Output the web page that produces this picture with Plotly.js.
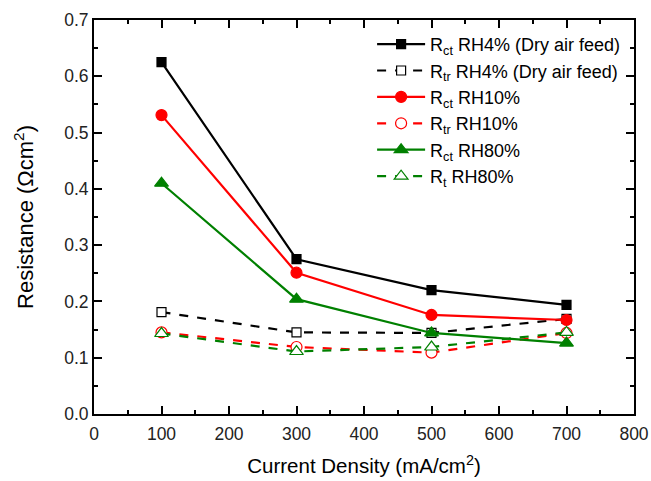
<!DOCTYPE html>
<html>
<head>
<meta charset="utf-8">
<script src="https://cdn.plot.ly/plotly-3.0.1.min.js"></script>
<style>html,body{margin:0;padding:0;background:#fff;}#chart{width:651px;height:481px;}</style>
</head>
<body>
<div id="chart"></div>
<script>
const currentDensity = [100, 300, 500, 700];
const rctRH4 = [0.625, 0.275, 0.220, 0.194];
const rtrRH4 = [0.181, 0.145, 0.144, 0.169];
const rctRH10 = [0.531, 0.251, 0.176, 0.167];
const rtrRH10 = [0.145, 0.119, 0.109, 0.144];
const rctRH80 = [0.410, 0.204, 0.144, 0.126];
const rtRH80 = [0.143, 0.111, 0.119, 0.145];
const seriesNames = [
  'R<sub>ct</sub> RH4% (Dry air feed)',
  'R<sub>tr</sub> RH4% (Dry air feed)',
  'R<sub>ct</sub> RH10%',
  'R<sub>tr</sub> RH10%',
  'R<sub>ct</sub> RH80%',
  'R<sub>t</sub> RH80%'
];

function tr(y, name, color, dash, symbol, size, fill) {
  return {
    x: currentDensity, y: y, name: name, type: 'scatter', mode: 'lines+markers',
    line: {color: color, width: 2.2, dash: dash},
    marker: {symbol: symbol, size: size, color: fill, line: {color: color, width: 1.2}}
  };
}
const data = [
  tr(rctRH4, seriesNames[0], '#000000', 'solid', 'square', 9, '#000000'),
  tr(rtrRH4, seriesNames[1], '#000000', 'dash', 'square', 9, '#ffffff'),
  tr(rctRH10, seriesNames[2], '#ff0000', 'solid', 'circle', 11, '#ff0000'),
  tr(rtrRH10, seriesNames[3], '#ff0000', 'dash', 'circle', 11, '#ffffff'),
  tr(rctRH80, seriesNames[4], '#008000', 'solid', 'triangle-up', 12, '#008000'),
  tr(rtRH80, seriesNames[5], '#008000', 'dash', 'triangle-up', 12, '#ffffff')
];
const FF = 'Liberation Sans, Arial, sans-serif';
const axCommon = {
  showline: true, linecolor: '#000', linewidth: 2, mirror: 'ticks',
  ticks: 'inside', ticklen: 8, tickwidth: 2, tickcolor: '#000',
  showgrid: false, zeroline: false,
  tickfont: {family: FF, size: 17.5, color: '#222'}
};
const layout = {
  width: 651, height: 481,
  margin: {l: 94, r: 17, t: 20, b: 67},
  paper_bgcolor: '#fff', plot_bgcolor: '#fff',
  font: {family: FF, size: 16, color: '#000'},
  showlegend: true,
  legend: {x: 0.515, y: 0.985, xanchor: 'left', yanchor: 'top', bgcolor: 'rgba(0,0,0,0)',
    itemwidth: 48,
    font: {family: FF, size: 18, color: '#000'}, tracegroupgap: 0},
  xaxis: Object.assign({}, axCommon, {
    range: [0, 800], dtick: 100, ticklabelstandoff: 3,
    minor: {dtick: 50, ticks: 'inside', ticklen: 4, tickwidth: 2, tickcolor: '#000'},
    title: {text: 'Current Density (mA/cm<sup>2</sup>)', standoff: 16,
      font: {family: FF, size: 20.5, color: '#000'}}
  }),
  yaxis: Object.assign({}, axCommon, {
    range: [0, 0.7], dtick: 0.1, tickformat: '.1f',
    minor: {dtick: 0.05, ticks: 'inside', ticklen: 4, tickwidth: 2, tickcolor: '#000'},
    title: {text: 'Resistance (Ωcm<sup>2</sup>)', standoff: 24,
      font: {family: FF, size: 22, color: '#000'}}
  })
};
Plotly.newPlot('chart', data, layout, {displayModeBar: false, staticPlot: true});
</script>
</body>
</html>
